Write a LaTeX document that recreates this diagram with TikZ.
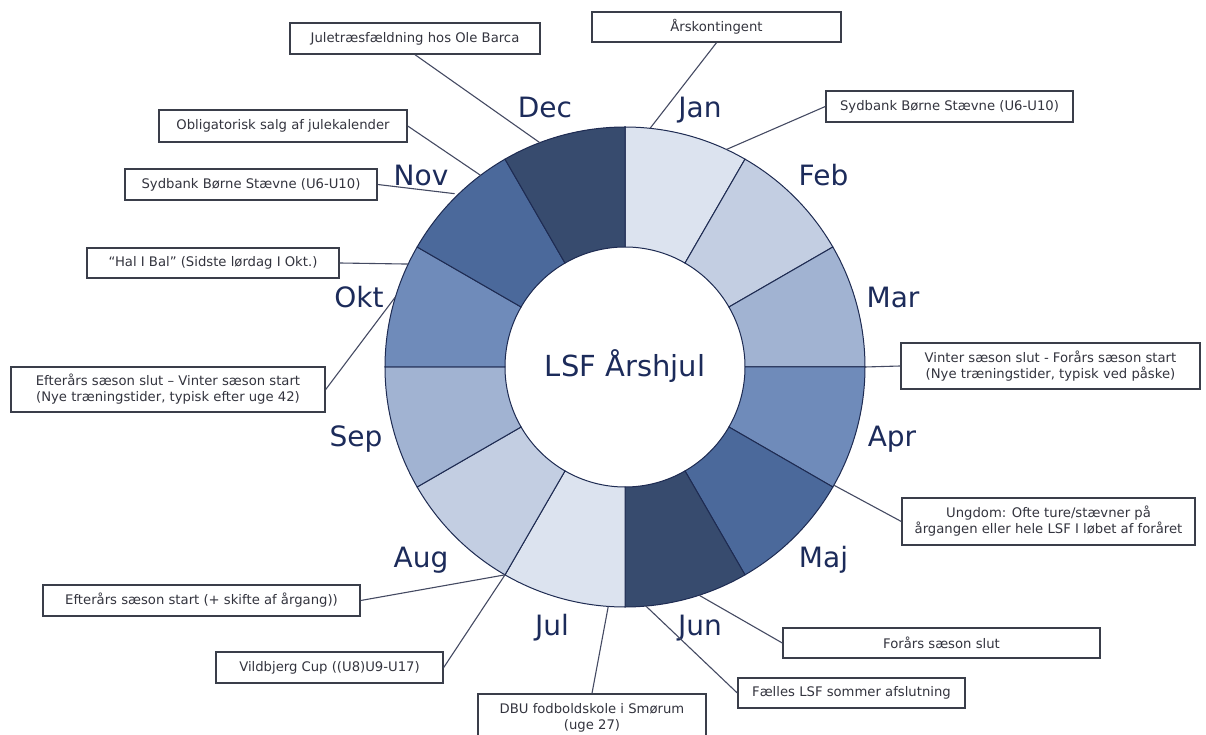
\documentclass[tikz,border=0pt]{standalone}
\usepackage{fontspec}
\setmainfont{DejaVu Sans}
\definecolor{navytext}{HTML}{1C2B5A}
\definecolor{boxtext}{HTML}{33343E}
\definecolor{boxline}{HTML}{3A3E4A}
\definecolor{segline}{HTML}{1E2B52}
\definecolor{linkline}{HTML}{444A62}
\definecolor{shadeA}{HTML}{DCE3EF}
\definecolor{shadeB}{HTML}{C3CEE2}
\definecolor{shadeC}{HTML}{A1B3D2}
\definecolor{shadeD}{HTML}{6F8BBA}
\definecolor{shadeE}{HTML}{4B699B}
\definecolor{shadeF}{HTML}{374B6E}
\newcommand{\ringpart}[3]{\filldraw[seg, fill=#3] (#1:120) arc[start angle=#1, end angle=#2, radius=120] -- (#2:240) arc[start angle=#2, end angle=#1, radius=240] -- cycle;}
\begin{document}
\begin{tikzpicture}[x=1pt, y=1pt,
    seg/.style={draw=segline, line width=1pt},
    month/.style={anchor=base, text=navytext, font=\fontsize{28}{32}\selectfont},
    evbox/.style={draw=boxline, line width=1.4pt, fill=white, text=boxtext, align=center,
        inner sep=2pt, font=\fontsize{13.2}{16}\selectfont},
    link/.style={draw=linkline, line width=1.1pt}]
            \useasboundingbox (-625,-368) rectangle (581,367);
            \ringpart{90}{60}{shadeA}
            \ringpart{60}{30}{shadeB}
            \ringpart{30}{0}{shadeC}
            \ringpart{0}{-30}{shadeD}
            \ringpart{-30}{-60}{shadeE}
            \ringpart{-60}{-90}{shadeF}
            \ringpart{-90}{-120}{shadeA}
            \ringpart{-120}{-150}{shadeB}
            \ringpart{-150}{-180}{shadeC}
            \ringpart{180}{150}{shadeD}
            \ringpart{150}{120}{shadeE}
            \ringpart{120}{90}{shadeF}
            \node[month, font=\fontsize{29}{33}\selectfont] (hub) at (0,-10) {LSF Årshjul};
            \node[month] (jan) at (75,249) {Jan};
            \node[month] (feb) at (198.5,181) {Feb};
            \node[month] (mar) at (268,59) {Mar};
            \node[month] (apr) at (267,-80) {Apr};
            \node[month] (maj) at (198.5,-200) {Maj};
            \node[month] (jun) at (75,-268) {Jun};
            \node[month] (jul) at (-73,-268) {Jul};
            \node[month] (aug) at (-204,-200) {Aug};
            \node[month] (sep) at (-269,-80) {Sep};
            \node[month] (okt) at (-266,59) {Okt};
            \node[month] (nov) at (-204,181) {Nov};
            \node[month] (dec) at (-80,249) {Dec};
            \coordinate (pdec) at (110.8:240);
            \coordinate (pjan) at (84:240);
            \coordinate (pfeb) at (65:240);
            \coordinate (pnov) at (127:240);
            \coordinate (pnovb) at (134.5:243);
            \coordinate (pokt) at (154.6:240);
            \coordinate (poktb) at (163:240);
            \coordinate (papr) at (0:240);
            \coordinate (pmaj) at (-29.5:240);
            \coordinate (pjun) at (-72:240);
            \coordinate (pjunb) at (-85:240);
            \coordinate (pjul) at (-94:240);
            \coordinate (paug) at (-120:240);
            \node[evbox, minimum width=250, minimum height=31] (decbox) at (-210,328.5) {Juletræsfældning hos Ole Barca};
            \node[evbox, minimum width=249, minimum height=30] (janbox) at (91.5,340) {Årskontingent};
            \node[evbox, minimum width=247, minimum height=31] (febbox) at (324.5,260.5) {Sydbank Børne Stævne (U6-U10)};
            \node[evbox, minimum width=248, minimum height=32] (novbox) at (-342,241) {Obligatorisk salg af julekalender};
            \node[evbox, minimum width=252, minimum height=31] (novboxb) at (-374,182.5) {Sydbank Børne Stævne (U6-U10)};
            \node[evbox, minimum width=252, minimum height=30] (oktbox) at (-412,104) {“Hal I Bal” (Sidste lørdag I Okt.)};
            \node[evbox, minimum width=314, minimum height=45] (oktboxb) at (-457,-22.5) {Efterårs sæson slut – Vinter sæson start\\(Nye træningstider, typisk efter uge 42)};
            \node[evbox, minimum width=299, minimum height=46] (aprbox) at (425.5,1) {Vinter sæson slut - Forårs sæson start\\(Nye træningstider, typisk ved påske)};
            \node[evbox, minimum width=293, minimum height=47] (majbox) at (423.5,-154.5) {Ungdom: Ofte ture/stævner på\\årgangen eller hele LSF I løbet af foråret};
            \node[evbox, minimum width=317, minimum height=30] (junbox) at (316.5,-276) {Forårs sæson slut};
            \node[evbox, minimum width=227, minimum height=30] (junboxb) at (226.5,-326) {Fælles LSF sommer afslutning};
            \node[evbox, minimum width=228, minimum height=48] (julbox) at (-33,-351) {DBU fodboldskole i Smørum\\(uge 27)};
            \node[evbox, minimum width=317, minimum height=31] (augbox) at (-423.5,-233.5) {Efterårs sæson start (+ skifte af årgang))};
            \node[evbox, minimum width=227, minimum height=31] (augboxb) at (-295.5,-300.5) {Vildbjerg Cup ((U8)U9-U17)};
            \draw[link] (decbox.south) -- (pdec);
            \draw[link] (janbox.south) -- (pjan);
            \draw[link] (febbox.west) -- (pfeb);
            \draw[link] (novbox.east) -- (pnov);
            \draw[link] (novboxb.east) -- (pnovb);
            \draw[link] (oktbox.east) -- (pokt);
            \draw[link] (oktboxb.east) -- (poktb);
            \draw[link] (aprbox.west) -- (papr);
            \draw[link] (majbox.west) -- (pmaj);
            \draw[link] (junbox.west) -- (pjun);
            \draw[link] (junboxb.west) -- (pjunb);
            \draw[link] (julbox.north) -- (pjul);
            \draw[link] (augbox.east) -- (paug);
            \draw[link] (augboxb.east) -- (paug);
        \end{tikzpicture}
\end{document}
